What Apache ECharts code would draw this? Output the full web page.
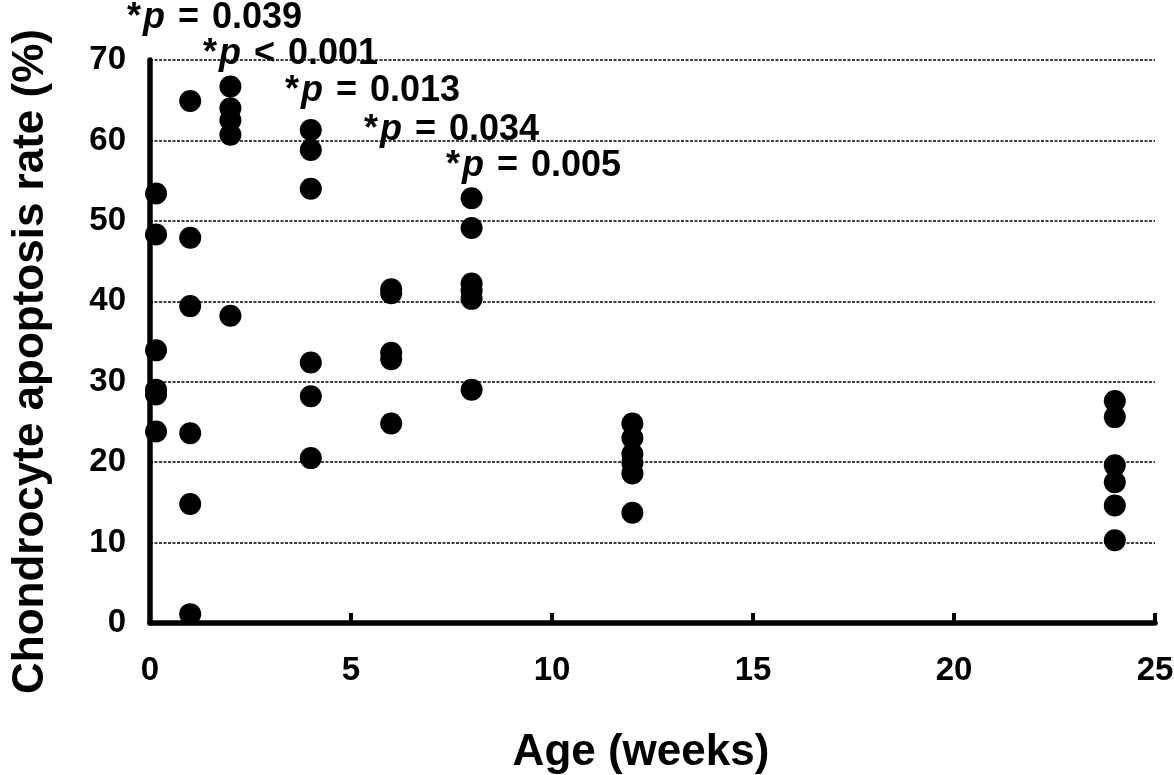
<!DOCTYPE html>
<html>
<head>
<meta charset="utf-8">
<title>Chondrocyte apoptosis rate</title>
<script src="https://cdn.jsdelivr.net/npm/echarts@6/dist/echarts.min.js"></script>
<style>
  html, body { margin: 0; padding: 0; background: #fff; }
  #chart { width: 1174px; height: 775px; }
</style>
</head>
<body>
<div id="chart"></div>
<script>
// age groups (weeks) and measured rates (%) per group
const ageWeeks = [0.15, 1, 2, 4, 6, 8, 12, 24]
const rates = [
  [53.4, 48.3, 33.9, 29.0, 28.4, 23.8],
  [64.9, 47.9, 39.4, 23.6, 14.8, 1.1],
  [66.7, 64.0, 62.5, 60.7, 38.2],
  [61.3, 58.8, 54.0, 32.4, 28.2, 20.5],
  [41.5, 41.0, 33.6, 32.8, 24.8],
  [52.8, 49.1, 42.2, 41.3, 40.3, 29.0],
  [24.8, 23.0, 21.0, 19.9, 18.6, 13.7],
  [27.6, 25.6, 19.6, 17.5, 14.6, 10.3]
]
// significance labels for weeks 1, 2, 4, 6, 8
const pSigns = ['=', '<', '=', '=', '=']
const pValues = ['0.039', '0.001', '0.013', '0.034', '0.005']
const pPos = [[127, 18], [203, 54], [285, 91], [364, 130], [446, 166]]

const FONT = '"Liberation Sans", Arial, Helvetica, sans-serif'

const points = []
ageWeeks.forEach((w, i) => {
  rates[i].forEach((v) => {
    points.push([w, v])
  })
})

const chart = echarts.init(document.getElementById('chart'))

const pRich = {
  s: { fontFamily: FONT, fontWeight: 'bold', fontSize: 36, fill: '#000', padding: [0, 2, 0, 0] },
  p: { fontFamily: FONT, fontWeight: 'bold', fontStyle: 'italic', fontSize: 36, fill: '#000' },
  e: { fontFamily: FONT, fontWeight: 'bold', fontSize: 36, fill: '#000', padding: [0, 3, 0, 3] },
  t: { fontFamily: FONT, fontWeight: 'bold', fontSize: 36, fill: '#000' }
}

const option = {
  backgroundColor: '#fff',
  animation: false,
  grid: {
    left: 150,
    right: 19,
    top: 60,
    bottom: 152,
    outerBoundsMode: 'none',
    containLabel: false
  },
  xAxis: {
    type: 'value',
    min: 0,
    max: 25,
    interval: 5,
    name: 'Age (weeks)',
    nameLocation: 'middle',
    nameGap: 108,
    nameTextStyle: {
      fontFamily: FONT,
      fontWeight: 'bold',
      fontSize: 44,
      color: '#000',
      padding: [0, 23, 0, 0]
    },
    axisLine: {
      onZero: false,
      lineStyle: { color: '#000', width: 5.5 }
    },
    axisTick: {
      inside: true,
      length: 10,
      lineStyle: { color: '#000', width: 4 }
    },
    axisLabel: {
      margin: 31,
      fontFamily: FONT,
      fontWeight: 'bold',
      fontSize: 33,
      color: '#000'
    },
    splitLine: { show: false }
  },
  yAxis: {
    type: 'value',
    min: 0,
    max: 70,
    interval: 10,
    name: 'Chondrocyte apoptosis rate (%)',
    nameLocation: 'middle',
    nameGap: 97,
    nameTextStyle: {
      fontFamily: FONT,
      fontWeight: 'bold',
      fontSize: 44,
      color: '#000',
      padding: [0, 40, 0, 0]
    },
    axisLine: {
      show: true,
      lineStyle: { color: '#000', width: 5.5 }
    },
    axisTick: { show: false },
    axisLabel: {
      margin: 24,
      fontFamily: FONT,
      fontWeight: 'bold',
      fontSize: 33,
      color: '#000'
    },
    splitLine: {
      show: true,
      lineStyle: { color: '#000', width: 1.5, type: [3, 1.5] }
    }
  },
  graphic: pValues.map((v, i) => ({
    type: 'text',
    x: pPos[i][0],
    y: pPos[i][1],
    z: 10,
    style: {
      text: '{s|*}{p|p}{e| ' + pSigns[i] + ' }{t|' + v + '}',
      textVerticalAlign: 'middle',
      rich: pRich
    }
  })),
  series: [
    {
      type: 'scatter',
      symbol: 'circle',
      symbolSize: 22,
      itemStyle: { color: '#000', opacity: 1 },
      data: points
    }
  ]
}

chart.setOption(option)
</script>
</body>
</html>
